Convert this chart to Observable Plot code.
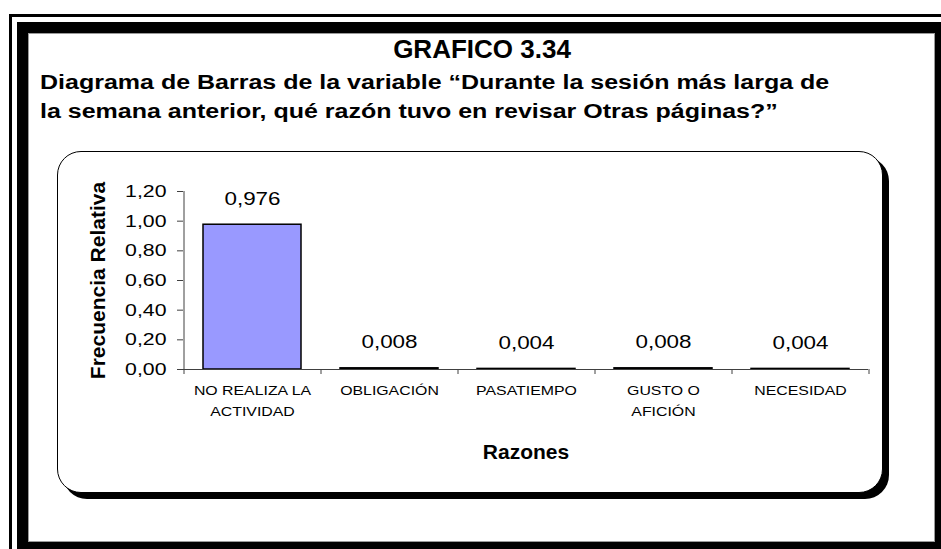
<!DOCTYPE html>
<html lang="es">
<head>
<meta charset="utf-8">
<script src="https://cdn.jsdelivr.net/npm/d3@7"></script>
<script src="https://cdn.jsdelivr.net/npm/@observablehq/plot@0.6"></script>
<style>
  html, body { margin: 0; padding: 0; background: #fff; }
  #page { position: relative; width: 941px; height: 549px; overflow: hidden; background: #fff;
          font-family: "Liberation Sans", Arial, Helvetica, sans-serif; color: #000; }
  .border-thin { position: absolute; left: 9px; top: 14px; width: 1000px; height: 1000px;
                 border: 3px solid #000; box-sizing: border-box; }
  .border-thick { position: absolute; left: 17px; top: 22px; width: 929px; height: 531px;
                  border: 11px solid #000; box-sizing: border-box; box-shadow: inset 0 0 0 1px #9a9a9a; }
  .title { position: absolute; left: 482px; top: 36px; transform: translateX(-50%);
           font-size: 26px; font-weight: bold; line-height: 1; white-space: nowrap; }
  .subtitle { position: absolute; left: 40px; top: 68px; font-size: 20px; font-weight: bold;
              line-height: 29px; white-space: nowrap; transform: scaleX(1.25); transform-origin: 0 0; }
  .panel { position: absolute; left: 57px; top: 151px; width: 826px; height: 342px;
           border: 1.5px solid #000; border-radius: 24px; box-sizing: border-box;
           box-shadow: 6px 6px 0 0 #000; background: #fff; }
  #chart { position: absolute; left: 0; top: 0; }
</style>
</head>
<body>
<div id="page">
  <div class="border-thin"></div>
  <div class="border-thick"></div>
  <div class="title" id="title"></div>
  <div class="subtitle" id="subtitle"></div>
  <div class="panel"></div>
  <div id="chart"></div>
</div>
<script>
// Reasons given and their relative frequencies
const categories = ["NO REALIZA LA ACTIVIDAD", "OBLIGACIÓN", "PASATIEMPO", "GUSTO O AFICIÓN", "NECESIDAD"];
const tickLabels = ["NO REALIZA LA\nACTIVIDAD", "OBLIGACIÓN", "PASATIEMPO", "GUSTO O\nAFICIÓN", "NECESIDAD"];
const frequencies = [0.976, 0.008, 0.004, 0.008, 0.004];
const yTicks = [0, 0.2, 0.4, 0.6, 0.8, 1.0, 1.2];

const titleText = "GRAFICO 3.34";
const subtitleLines = [
  "Diagrama de Barras de la variable “Durante la sesión más larga de",
  "la semana anterior, qué razón tuvo en revisar Otras páginas?”"
];
const yLabel = "Frecuencia Relativa";
const xLabel = "Razones";

document.getElementById("title").textContent = titleText;
const sub = document.getElementById("subtitle");
subtitleLines.forEach((line, i) => {
  if (i) sub.appendChild(document.createElement("br"));
  sub.appendChild(document.createTextNode(line));
});

const rows = categories.map((c, i) => ({razon: c, frecuencia: frequencies[i], etiqueta: tickLabels[i]}));

const comma = fmt => v => d3.format(fmt)(v).replace(".", ",");

const W = 941, H = 549;
const margin = {left: 183, right: 73, top: 191, bottom: 180};
const step = (W - margin.left - margin.right) / categories.length;
const axisColor = "#404040";

const chart = Plot.plot({
  width: W,
  height: H,
  marginLeft: margin.left,
  marginRight: margin.right,
  marginTop: margin.top,
  marginBottom: margin.bottom,
  style: {fontFamily: "'Liberation Sans', Arial, Helvetica, sans-serif", background: "transparent", color: "#000", overflow: "visible"},
  x: {domain: categories, paddingInner: 0.286, paddingOuter: 0.143, axis: null},
  y: {domain: [0, 1.2], axis: null},
  marks: [
    Plot.barY(rows, {x: "razon", y: "frecuencia", fill: "#9999FF", stroke: "#000", strokeWidth: 1.5}),
    // value axis line and baseline
    Plot.ruleX([categories[0]], {dx: -step / 2, y1: 0, y2: 1.2, stroke: axisColor}),
    Plot.ruleY([0], {stroke: axisColor}),
    // category separators below the baseline
    Plot.ruleX(categories, {x: d => d, dx: -step / 2, y1: 0, y2: 0, insetBottom: -5, stroke: axisColor}),
    Plot.ruleX([categories[categories.length - 1]], {dx: step / 2, y1: 0, y2: 0, insetBottom: -5, stroke: axisColor}),
    Plot.axisY({ticks: yTicks, tickFormat: comma(".2f"), tickSize: 6, tickPadding: 11, fontSize: 17, stroke: axisColor, fill: "#000", label: null}),
    // category labels
    Plot.text(rows, {x: "razon", text: "etiqueta", frameAnchor: "bottom", lineAnchor: "top", dy: 11, fontSize: 13, lineHeight: 1.6, fill: "#000"}),
    // value labels above the bars
    Plot.text(rows, {x: "razon", y: "frecuencia", text: d => comma(".3f")(d.frecuencia), lineAnchor: "bottom", dy: -20, fontSize: 19, fill: "#000"}),
    // axis titles
    Plot.text([yLabel], {frameAnchor: "left", textAnchor: "middle", dx: -85, rotate: -90, fontSize: 21, fontWeight: "bold", fill: "#000"}),
    Plot.text([xLabel], {frameAnchor: "bottom", lineAnchor: "bottom", dy: 89, fontSize: 21, fontWeight: "bold", fill: "#000"})
  ]
});

document.getElementById("chart").appendChild(chart);

// widen the chart's regular-weight lettering
function widen(elements, k) {
  elements.forEach(t => {
    const parts = t.querySelectorAll("tspan");
    (parts.length ? Array.from(parts) : [t]).forEach(el => {
      const len = el.getComputedTextLength();
      el.setAttribute("textLength", (len * k).toFixed(1));
      el.setAttribute("lengthAdjust", "spacingAndGlyphs");
    });
  });
}
const textGroups = chart.querySelectorAll('g[aria-label="text"]');
widen(chart.querySelectorAll('g[aria-label="y-axis tick label"] text'), 1.25);
widen(textGroups[0].querySelectorAll("text"), 1.22);
widen(textGroups[1].querySelectorAll("text"), 1.18);
</script>
</body>
</html>
